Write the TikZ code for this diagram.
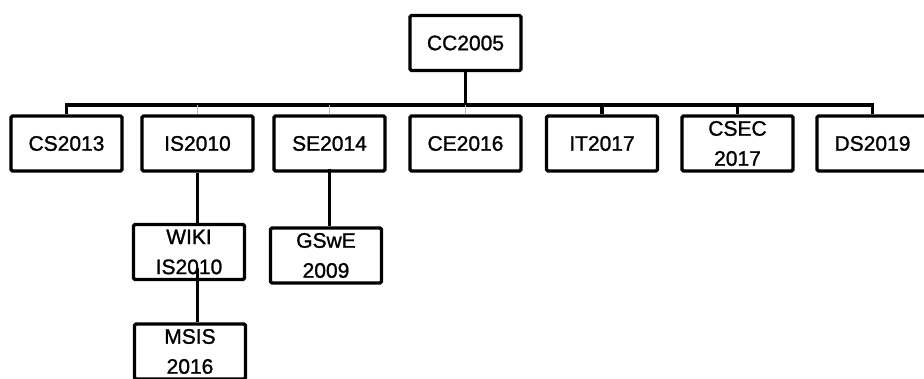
\documentclass[tikz,border=0pt]{standalone}
\usepackage{fontspec}
\setmainfont{Liberation Sans}
\newfontfamily\boxfont{Liberation Sans}[FakeBold=1.2]
\usetikzlibrary{calc}
\tikzset{
  box/.style={draw=black, line width=3.2pt, rounded corners=1.5pt, minimum width=111pt, minimum height=55pt, inner sep=0pt, align=center, font=\boxfont\fontsize{21}{30}\selectfont},
  link/.style={draw=black, line width=3.2pt},
  faint/.style={draw=black!25, line width=1pt}
}
\begin{document}
\begin{tikzpicture}[x=1pt,y=1pt]
\useasboundingbox (0,0) rectangle (924,378);
\clip (0,0) rectangle (924,378);
\coordinate (bar) at (0,273);
\node[box] (cc) at (465.5,335) {CC2005};
\node[box] (cs) at (66.5,234.5) {CS2013};
\node[box] (is) at (197.5,234.5) {IS2010};
\node[box] (se) at (329.5,234.5) {SE2014};
\node[box] (ce) at (465.5,234.5) {CE2016};
\node[box] (it) at (602,234.5) {IT2017};
\node[box] (csec) at (737.5,234.5) {CSEC\\2017};
\node[box] (ds) at (872.5,234.5) {DS2019};
\node[box] (wiki) at (189,126) {WIKI\\IS2010};
\node[box] (gswe) at (326,122.5) {GSwE\\2009};
\node[box] (msis) at (190,26.5) {MSIS\\2016};
% connectors
\draw[link] (cc.south) -- (cc.south |- bar);
\draw[link] (cs.north) -- (cs.north |- bar) -- (ds.north |- bar) -- (ds.north);
\draw[link] (it.north |- bar) -- (it.north);
\draw[link] (csec.north |- bar) -- (csec.north);
\draw[faint] (is.north |- bar) -- (is.north);
\draw[faint] (se.north |- bar) -- (se.north);
\draw[faint] (ce.north |- bar) -- (ce.north);
\draw[link] (is.south) -- (is.south |- wiki.north);
\draw[link] ($(wiki.south -| is.south)+(0,13)$) -- (is.south |- msis.north);
\draw[link] ($(se.south)+(0,4)$) -- (se.south |- gswe.north);
\end{tikzpicture}
\end{document}
